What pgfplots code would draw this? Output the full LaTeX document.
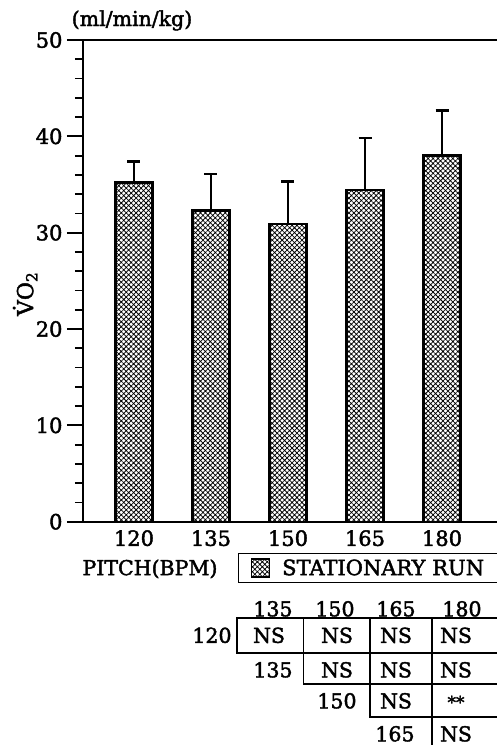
\documentclass[border=0pt]{standalone}
\usepackage{fontspec}
\setmainfont{DejaVu Serif}[FakeBold=2]
\usepackage{pgfplots}
\usepackage{pgfplotstable}
\pgfplotsset{compat=1.18}
\usetikzlibrary{patterns.meta}

% mean VO2 and upper SD per pitch
\pgfplotstableread{
x mean sd
0 35.2 2.2
1 32.3 3.8
2 30.9 4.4
3 34.4 5.4
4 38.0 4.7
}\vodata

\tikzset{
  hatch/.style={pattern={Hatch[angle=45,distance=3.5pt,line width=0.75pt]}},
  lab/.style={anchor=base, inner sep=0pt, font=\fontsize{20.5}{24}\selectfont},
}

\begin{document}
\begin{tikzpicture}[x=1pt,y=1pt]
\useasboundingbox (0,0) rectangle (496,-745);
\begin{axis}[
  at={(83pt,-521.7pt)}, anchor=south west,
  scale only axis, width=416pt, height=481.7pt,
  xmin=-0.662, xmax=4.74, ymin=0, ymax=50,
  ybar, bar width=0.48,
  axis line style={line width=2.4pt},
  ytick={0,10,...,50}, minor y tick num=4,
  ytick pos=left, xtick pos=bottom,
  tick align=outside,
  major tick length=16pt, minor tick length=8pt,
  every tick/.style={black, line width=2.2pt},
  minor tick style={line width=1.8pt},
  xtick={0,...,4}, xticklabels={120,135,150,165,180},
  xtick style={draw=none},
  /pgf/number format/assume math mode=true,
  tick label style={font=\fontsize{21}{24}\selectfont},
  yticklabel style={xshift=-1pt},
  xticklabel style={yshift=11pt},
  xlabel={PITCH(BPM)},
  xlabel style={at={(axis description cs:0.161,-0.098)}, anchor=center,
    font=\fontsize{20.5}{24}\selectfont},
  ylabel={\.{V}O\textsubscript{2}},
  ylabel style={at={(axis description cs:-0.139,0.473)}, anchor=center,
    font=\fontsize{22}{26}\selectfont},
  legend style={at={(0.3726,-0.0646)}, anchor=north west, draw=black,
    line width=1.4pt, inner xsep=12pt, inner ysep=4pt,
    font=\fontsize{21}{25}\selectfont},
  legend image code/.code={\draw[line width=1.5pt, hatch] (3pt,-9pt) rectangle (21pt,9pt);},
]
\addplot[draw=black, line width=2.4pt, hatch,
  error bars/.cd, y dir=plus, y explicit,
  error bar style={line width=2.4pt},
  error mark options={line width=2.4pt, mark size=6.5pt, rotate=90}]
  table[x=x, y=mean, y error=sd]{\vodata};
\addlegendentry{\hspace*{10pt}STATIONARY RUN\hspace*{30pt}}
\end{axis}

% units above the axis
\node[anchor=base, inner sep=0pt, font=\fontsize{20.5}{24}\selectfont] at (132,-26) {(ml/min/kg)};

% pairwise comparison table
\begin{scope}[line width=1.6pt]
\draw (237,-618) rectangle (502,-653);
\draw (303.3,-618) -- (303.3,-684) -- (502,-684);
\draw (370,-618) -- (370,-717) -- (502,-717);
\draw (431.7,-618) -- (431.7,-750);
\end{scope}
\foreach \x/\t in {273/135, 335/150, 396/165, 462/180}
  \node[lab] at (\x,-616.3) {\t};
\node[lab] at (212,-642.8) {120};
\node[lab] at (273,-677.3) {135};
\node[lab] at (337,-708.3) {150};
\node[lab] at (395,-741.3) {165};
\foreach \x in {269,337,396,456} \node[lab] at (\x,-642.8) {NS};
\foreach \x in {337,396,456} \node[lab] at (\x,-677.3) {NS};
\node[lab] at (396,-708.3) {NS};
\node[lab, font=\fontsize{17}{20}\selectfont] at (456,-708.3) {**};
\node[lab] at (456,-741.3) {NS};
\end{tikzpicture}
\end{document}
